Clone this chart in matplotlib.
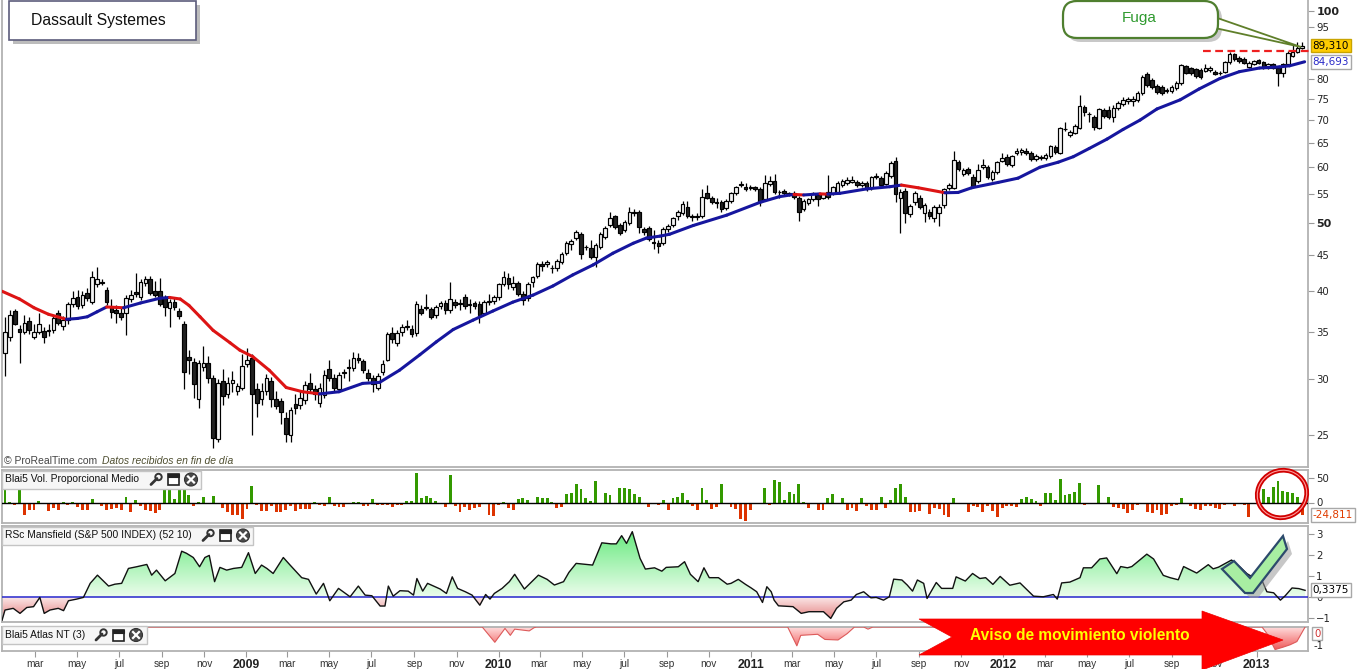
import datetime as dt
import numpy as np
import matplotlib
matplotlib.use("Agg")
import matplotlib.pyplot as plt
import matplotlib.dates as mdates
import matplotlib.transforms as mtransforms
from matplotlib.patches import Rectangle, FancyBboxPatch, Polygon, Ellipse, Circle
from matplotlib.path import Path
from matplotlib.colors import LinearSegmentedColormap

# ---------------- data (weekly) ----------------
title = "Dassault Systemes"
first_week = dt.datetime(2008, 1, 18)

opens = [
32.7, 34.4, 37.5, 35.4, 35.0, 36.3, 34.4, 35.0, 35.1, 35.1,
35.2, 37.2, 35.7, 36.4, 38.4, 39.2, 38.2, 39.8, 38.6, 41.0,
41.2, 40.2, 38.0, 37.6, 37.3, 37.3, 39.0, 39.9, 39.2, 41.1,
41.6, 40.1, 40.0, 39.1, 37.9, 38.6, 37.5, 36.0, 32.3, 31.7,
28.1, 31.2, 31.6, 30.1, 24.7, 29.8, 28.6, 29.6, 28.9, 29.2,
31.5, 32.2, 29.1, 28.1, 28.9, 29.8, 28.1, 27.9, 26.4, 25.0,
27.7, 27.6, 28.0, 29.6, 29.1, 27.8, 28.5, 31.0, 30.1, 29.1,
30.6, 31.1, 31.1, 32.2, 31.8, 30.6, 30.1, 29.2, 30.7, 32.0,
34.9, 33.8, 35.0, 35.6, 35.4, 34.9, 37.7, 37.9, 37.7, 37.0,
38.1, 38.5, 37.6, 38.6, 38.4, 39.2, 38.3, 38.5, 38.4, 37.3,
38.6, 38.7, 39.2, 41.0, 41.8, 40.5, 41.1, 39.7, 39.1, 41.2,
42.1, 43.8, 43.7, 43.2, 43.1, 44.0, 45.4, 46.7, 47.6, 48.2,
46.2, 46.1, 44.7, 46.3, 47.8, 49.6, 51.1, 49.7, 48.8, 50.0,
51.9, 51.8, 49.0, 49.2, 47.0, 46.9, 46.8, 49.0, 49.7, 51.1,
51.6, 52.7, 51.1, 51.2, 51.1, 55.1, 54.3, 53.5, 53.5, 52.5,
53.7, 55.1, 56.7, 56.2, 56.1, 56.2, 55.9, 54.0, 56.8, 57.4,
55.4, 55.5, 55.1, 55.1, 54.3, 52.4, 53.4, 54.1, 54.8, 54.3,
55.3, 55.1, 55.3, 56.6, 57.0, 57.2, 57.2, 56.6, 57.0, 56.0,
58.2, 57.9, 56.8, 58.3, 61.3, 54.3, 55.6, 51.5, 53.5, 54.3,
51.6, 51.8, 50.8, 51.6, 53.0, 56.1, 56.1, 61.0, 58.7, 59.7,
58.1, 57.4, 60.0, 60.0, 57.8, 59.1, 61.3, 62.0, 60.4, 62.9,
63.0, 63.3, 62.9, 61.6, 61.9, 61.8, 62.2, 64.1, 62.9, 67.9,
66.7, 67.1, 68.2, 73.1, 71.5, 70.7, 68.2, 72.4, 72.4, 70.7,
72.9, 73.8, 74.6, 74.6, 74.8, 76.5, 81.4, 79.8, 78.3, 78.0,
77.1, 77.0, 77.7, 79.0, 83.5, 82.9, 82.7, 82.5, 82.2, 82.4,
82.0, 81.7, 82.0, 84.6, 86.9, 85.8, 85.5, 83.3, 84.1, 85.2,
84.6, 83.0, 84.1, 83.0, 81.7, 84.1, 86.3, 87.5, 88.6]

highs = [
36.8, 37.6, 37.8, 35.8, 37.0, 36.8, 36.0, 37.2, 35.6, 35.9,
36.9, 37.6, 36.9, 38.6, 40.0, 40.2, 40.0, 40.4, 42.8, 43.3,
41.6, 40.6, 39.0, 38.2, 38.0, 39.5, 40.2, 42.5, 41.6, 42.0,
42.0, 41.4, 41.8, 39.5, 39.0, 39.2, 37.9, 36.3, 33.0, 32.2,
32.0, 33.4, 32.4, 30.4, 30.0, 31.0, 30.2, 30.8, 29.6, 32.6,
33.2, 32.6, 29.6, 29.6, 30.5, 30.2, 28.9, 28.2, 27.0, 27.4,
28.6, 29.0, 29.8, 30.6, 29.4, 29.6, 30.9, 32.0, 30.5, 30.7,
31.0, 32.1, 32.8, 32.7, 32.1, 31.0, 30.4, 30.6, 32.0, 35.0,
35.6, 35.2, 35.9, 36.4, 35.8, 38.7, 38.2, 39.6, 38.0, 38.3,
38.8, 38.9, 41.2, 39.0, 39.0, 39.6, 39.0, 38.8, 38.7, 38.9,
39.6, 39.5, 41.1, 42.8, 42.4, 42.0, 41.4, 40.0, 41.2, 42.1,
44.0, 44.1, 44.3, 43.6, 44.5, 45.5, 47.2, 47.5, 48.8, 48.6,
46.6, 47.3, 46.8, 48.5, 49.5, 51.9, 51.4, 50.0, 50.5, 52.7,
52.4, 52.1, 49.4, 49.5, 48.8, 47.3, 49.3, 49.8, 51.0, 52.1,
53.8, 53.7, 51.5, 51.6, 55.8, 56.6, 54.6, 54.3, 53.9, 54.0,
55.4, 56.5, 57.3, 57.0, 56.6, 56.5, 56.2, 58.5, 58.3, 58.6,
55.7, 55.9, 55.4, 55.5, 54.6, 54.0, 54.3, 55.4, 55.1, 55.2,
58.5, 56.5, 57.3, 57.7, 58.1, 58.4, 57.6, 57.4, 57.4, 58.4,
58.9, 58.3, 59.3, 61.2, 62.0, 55.8, 56.0, 53.2, 55.5, 54.8,
53.4, 52.3, 53.0, 53.2, 56.0, 57.0, 63.3, 61.5, 59.9, 60.1,
58.6, 60.6, 61.6, 60.4, 59.4, 61.3, 62.8, 62.6, 62.5, 63.8,
64.0, 63.9, 63.2, 62.6, 62.4, 62.8, 64.6, 64.5, 68.5, 69.6,
67.8, 69.2, 76.0, 73.5, 71.9, 71.2, 72.9, 72.8, 73.2, 73.6,
74.4, 75.6, 75.5, 75.7, 76.9, 81.0, 81.9, 80.3, 78.8, 78.4,
77.7, 78.5, 79.5, 84.1, 83.9, 83.4, 83.1, 83.0, 84.0, 83.5,
82.5, 82.2, 85.0, 87.4, 87.3, 86.2, 85.9, 84.8, 85.3, 85.6,
85.0, 84.5, 84.5, 83.4, 84.4, 87.6, 89.5, 90.4, 90.4]

lows = [
30.3, 34.0, 35.8, 31.6, 34.8, 34.8, 34.2, 34.8, 33.8, 34.6,
34.9, 35.8, 35.3, 36.0, 38.0, 37.8, 37.9, 38.8, 38.4, 40.6,
40.8, 38.2, 36.6, 36.1, 36.4, 34.7, 38.6, 39.3, 38.9, 40.7,
39.5, 39.2, 38.1, 36.9, 35.6, 37.6, 36.5, 29.1, 30.5, 28.2,
27.3, 30.8, 29.6, 24.0, 24.4, 27.6, 28.2, 28.8, 28.5, 29.0,
31.2, 25.0, 26.5, 27.6, 28.5, 27.4, 27.2, 25.9, 24.4, 24.4,
26.8, 27.2, 27.7, 28.8, 28.0, 27.4, 28.2, 29.8, 28.8, 28.8,
30.1, 29.8, 30.8, 31.6, 30.6, 29.8, 28.8, 29.0, 30.4, 31.8,
33.8, 33.5, 34.6, 35.3, 34.4, 34.6, 37.0, 37.6, 36.5, 36.7,
37.8, 37.1, 37.3, 37.9, 37.6, 37.8, 37.2, 37.8, 36.1, 37.0,
38.3, 38.4, 38.9, 40.7, 40.3, 40.2, 39.4, 38.2, 38.8, 40.6,
41.8, 42.7, 43.3, 42.4, 42.8, 43.7, 45.1, 45.8, 47.3, 44.4,
45.8, 44.4, 43.3, 46.0, 47.5, 49.3, 49.1, 48.1, 48.5, 49.7,
51.2, 48.4, 48.1, 47.1, 46.0, 45.4, 46.5, 48.6, 49.4, 50.5,
51.3, 50.8, 50.4, 50.5, 50.8, 54.0, 53.2, 52.6, 51.9, 52.2,
53.4, 54.8, 56.3, 55.6, 55.7, 55.5, 52.9, 53.7, 56.5, 55.0,
54.3, 54.8, 54.6, 54.0, 50.3, 52.0, 53.0, 53.8, 52.9, 54.0,
54.0, 54.8, 55.0, 56.3, 56.7, 56.9, 56.2, 56.2, 55.6, 55.7,
57.8, 56.2, 56.6, 58.0, 53.5, 48.4, 50.0, 51.0, 53.0, 52.3,
50.2, 50.6, 50.2, 49.5, 52.6, 55.7, 55.8, 59.3, 58.3, 58.5,
56.0, 57.0, 59.6, 57.7, 57.4, 58.7, 61.0, 60.2, 60.0, 62.5,
62.4, 62.4, 61.2, 61.2, 61.5, 61.4, 61.9, 62.7, 62.6, 67.5,
66.3, 66.8, 67.9, 70.9, 69.5, 67.8, 67.9, 70.5, 70.2, 69.5,
72.3, 73.4, 73.8, 73.4, 74.3, 76.1, 78.1, 77.5, 76.2, 76.0,
76.4, 76.5, 77.2, 78.6, 81.3, 81.2, 80.4, 80.1, 81.8, 82.0,
81.0, 81.0, 81.6, 84.2, 85.0, 84.5, 84.0, 82.9, 83.7, 84.0,
82.6, 82.6, 82.6, 78.3, 80.6, 83.7, 86.0, 87.1, 88.2]

closes = [
35.0, 37.0, 36.0, 35.0, 36.1, 35.3, 35.0, 36.0, 34.5, 35.3,
36.6, 36.1, 36.4, 38.4, 39.1, 38.1, 39.5, 39.1, 41.9, 41.6,
41.1, 38.6, 37.4, 37.2, 36.8, 39.1, 39.5, 39.7, 41.2, 41.6,
39.8, 39.5, 38.4, 38.0, 38.6, 38.0, 36.9, 30.7, 31.9, 29.5,
31.6, 31.6, 30.1, 24.8, 29.6, 28.4, 29.6, 29.9, 29.3, 31.3,
32.0, 28.6, 27.8, 28.9, 30.1, 28.1, 27.5, 27.0, 25.1, 27.1,
27.3, 28.2, 29.4, 29.1, 28.6, 29.2, 30.4, 30.1, 29.2, 30.4,
30.7, 31.2, 32.2, 32.0, 30.9, 30.1, 29.5, 30.3, 31.5, 34.8,
34.2, 34.9, 35.6, 35.7, 34.8, 38.4, 37.3, 38.0, 36.8, 38.0,
38.5, 37.6, 39.0, 38.2, 38.5, 38.1, 38.4, 38.1, 37.0, 38.6,
38.7, 39.2, 40.9, 41.9, 41.0, 41.1, 39.7, 38.9, 40.9, 41.9,
43.8, 43.4, 44.0, 43.1, 44.2, 45.2, 46.8, 47.1, 48.5, 45.2,
46.3, 44.7, 46.5, 48.2, 49.2, 50.8, 49.4, 48.4, 50.2, 51.8,
51.7, 49.4, 48.5, 47.5, 46.9, 46.4, 49.0, 49.5, 50.8, 51.8,
53.2, 51.1, 51.0, 51.0, 54.4, 54.3, 53.5, 53.4, 52.4, 53.7,
55.1, 56.2, 56.8, 55.9, 56.2, 55.9, 53.5, 57.0, 57.4, 55.3,
55.3, 55.1, 55.0, 54.4, 51.8, 53.7, 54.0, 55.1, 54.1, 54.9,
54.5, 56.2, 57.0, 57.4, 57.6, 57.6, 56.6, 57.0, 56.0, 58.1,
58.3, 56.6, 58.8, 60.8, 55.0, 55.3, 51.6, 52.8, 55.1, 52.7,
53.0, 51.1, 52.7, 52.7, 55.8, 56.6, 61.4, 59.7, 59.5, 58.9,
56.5, 59.5, 60.4, 58.1, 59.1, 61.0, 61.8, 60.6, 62.2, 63.3,
63.4, 62.9, 61.6, 62.2, 62.0, 62.4, 64.3, 63.1, 68.2, 68.0,
67.4, 68.7, 73.3, 71.9, 71.4, 68.5, 72.6, 71.0, 70.8, 72.9,
74.0, 74.8, 74.9, 75.0, 76.5, 80.6, 78.5, 78.0, 76.7, 76.5,
77.2, 78.0, 79.0, 83.8, 81.7, 81.7, 80.9, 80.6, 83.0, 83.1,
81.4, 81.6, 84.6, 86.9, 85.5, 84.9, 84.4, 84.4, 84.9, 84.4,
83.0, 84.1, 83.0, 81.7, 84.1, 87.2, 87.5, 88.6, 89.31]

# moving average (week number -> value)
ma_week = [-0.6, 3, 6, 9, 12.7, 15, 17, 19, 21, 24.5,
           28, 32, 34, 36.2, 38, 40.3, 43, 46.5, 48.5, 51.2,
           54.6, 58.1, 61.5, 65, 69, 73.9, 77.4, 81.5, 85.7, 89.1,
           92.6, 96.7, 100.8, 104.9, 109.1, 113.2, 117.3, 121.5, 125.6, 129.8,
           132.5, 135.3, 137.3, 142.2, 149.1, 156, 160, 163, 165, 168.4,
           170, 172.5, 178, 182.8, 185.2, 188.7, 194.2, 196.9, 199.7, 205.2,
           209.3, 213.8, 217.6, 220.7, 224.0, 227.7, 231.0, 234.5, 238.0, 242.8,
           246.7, 251, 255, 259.2, 263.3, 265.4, 268.5]
ma_val = [40.0, 39.0, 37.9, 37.1, 36.5, 36.6, 36.8, 37.4, 38.0, 37.9,
          38.5, 39.1, 39.2, 39.0, 38.2, 36.8, 35.2, 33.8, 33.0, 32.3,
          30.9, 29.2, 28.8, 28.6, 28.8, 29.6, 29.7, 30.9, 32.5, 33.9,
          35.3, 36.4, 37.5, 38.6, 39.5, 40.7, 42.2, 43.6, 45.3, 46.8,
          47.6, 47.9, 48.2, 49.6, 51.3, 53.5, 54.5, 54.9, 54.8, 55.0,
          54.95, 55.1, 55.9, 56.3, 56.6, 56.1, 55.2, 55.25, 56.1, 57.1,
          57.9, 60.0, 61.0, 62.1, 63.8, 65.8, 67.9, 70.0, 72.6, 74.8,
          77.5, 80.2, 82.0, 83.0, 83.3, 83.6, 84.7]

resistance = 87.7
resistance_weeks = [247.5, 270.6]

vol = [
27, 2, -4, 27, -24, -14, -14, 4, -2, -17,
-10, -15, 2, -5, 2, -9, -14, -14, 8, 0,
-7, -14, -12, -10, -14, 11, -19, 6, -7, -15,
-17, -21, -14, 26, 29, 7, 29, 29, 15, -7,
2, 11, 0, 13, 0, -10, -19, -24, -24, -33,
-12, 33, -4, -17, -17, -7, -18, -18, -15, -7,
-17, -12, -12, -12, 2, -4, -7, 11, -7, -9,
-9, 0, 2, 2, -7, -7, 8, -4, -4, -4,
-9, -4, -5, 3, 3, 59, 10, 13, 9, 3,
-3, -9, 55, -7, -19, -9, -15, -11, -9, 0,
-25, -27, -5, 2, -10, -15, 7, 9, 5, -2,
12, 9, 9, 2, -10, -9, 17, 19, 37, 27,
9, 3, 43, -2, 19, 15, -2, 30, 29, 27,
17, 12, 0, -9, 0, -5, 5, -15, 10, 12,
19, 5, -7, -15, 30, 5, -12, -9, 37, -2,
-9, -13, -32, -37, -15, 0, 0, 29, -5, 45,
41, 5, 21, 17, 37, 2, -10, -2, -15, -15,
9, 17, 0, 9, -15, -10, -17, 9, -7, -15,
-15, 12, -10, 5, 30, 37, 12, -19, -19, -17,
0, -22, -10, -12, -25, -29, 10, 0, 0, -19,
-7, -9, -19, -7, -17, -29, -10, -7, -7, -9,
8, 12, 8, 3, -7, 20, 19, 5, 47, 15,
17, 22, 40, -5, 0, -2, 35, -3, 12, -9,
-10, -13, -20, -15, -5, 0, -18, -20, -15, -25,
-23, -7, -5, 10, -3, -7, -13, -15, -7, -7,
-10, -12, -5, -3, -7, -3, -5, -28, -3, 1,
28, 11, 32, 43, 23, 21, 19, 12, -24.811]

rsc_week = [
-0.6, 0.0, 1.7, 3.1, 4.5, 5.9, 7.2, 8.1, 9.3, 11.0,
12.1, 13.1, 14.8, 16.2, 17.6, 19.1, 21.4, 22.7, 24.1, 25.5,
27.2, 29.3, 30.3, 31.3, 33.1, 35.1, 36.5, 37.5, 38.9, 40.2,
41.3, 42.2, 43.3, 44.4, 45.8, 47.2, 48.9, 50.3, 51.7, 53.0,
54.1, 55.4, 57.5, 58.9, 61.3, 62.7, 64.3, 65.8, 67.1, 68.9,
71.3, 73.0, 74.4, 75.8, 77.5, 78.5, 79.2, 80.2, 81.6, 83.3,
84.4, 85.1, 86.3, 87.3,
89.9, 91.2, 92.4, 93.5, 95.1, 96.5, 98.1, 99.3, 100.2, 101.1,
102.7, 104.2, 105.3, 107.3, 110.2, 112.0, 113.5, 115.4, 116.5, 118.0,
121.4, 123.3, 125.2, 126.3, 127.4, 128.4, 129.6, 131.2, 132.3, 134.2,
135.7, 136.6, 139.1, 140.4, 141.6, 143.2, 144.4, 145.5, 147.4, 149.2,
150.0, 151.5, 153.0, 154.1, 155.3, 156.5, 157.4, 158.3, 158.9, 159.8,
162.8, 164.5, 166.1, 167.6, 169.1, 170.6, 171.8, 173.3, 174.8, 175.9,
177.4, 178.9, 180.0, 181.5, 182.7, 183.6, 185.3, 186.4, 187.5, 188.5,
189.8, 190.5, 192.4, 193.5, 195.8, 196.5, 198.4, 199.9, 201.4, 202.6,
204.1,
205.6, 207.6, 209.7, 212.5, 214.5, 216.6, 217.4, 218.3, 220.0, 222.1,
222.8, 224.5, 226.2, 227.6, 229.7, 230.5, 231.9, 232.8, 235.9, 237.3,
239.3, 240.7, 242.4, 243.5, 246.2, 248.6, 249.6, 250.7, 253.4, 255.2,
256.6, 258.0, 259.7, 260.7, 262.1, 263.5, 264.5, 265.9, 267.3, 268.6]
rsc_val = [
-1.08, -0.6, -0.52, -0.76, -0.48, -0.44, 0.0, -0.76, -0.6, -0.52,
-0.63, -0.16, -0.08, 0.0, 0.67, 1.06, 0.54, 0.63, 0.67, 1.38,
1.46, 1.57, 1.06, 1.3, 0.79, 1.14, 2.2, 2.1, 1.9, 1.46,
1.9, 2.0, 0.75, 1.43, 1.3, 1.38, 1.43, 2.13, 1.14, 1.54,
1.38, 1.14, 1.9, 1.54, 0.94, 0.86, 0.16, 0.67, -0.16, 0.43,
0.03, 0.54, 0.11, 0.08, -0.41, -0.41, 0.54, 0.06, 0.32, 0.3,
0.11, 0.9, 0.3, 0.67,
0.4, 0.19, 0.98, 0.43, 0.27, 0.11, -0.37, 0.14, -0.08, 0.19,
0.43, 0.75, 1.1, 0.4, 1.06, 0.86, 0.59, 0.75, 1.19, 1.62,
1.54, 2.6, 2.55, 2.55, 2.94, 2.57, 3.13, 1.86, 1.35, 1.41,
1.25, 1.43, 1.46, 1.7, 1.1, 0.75, 1.41, 0.94, 0.94, 0.63,
0.67, 0.86, 0.62, 0.46, 0.27, -0.24, 0.51, 0.27, -0.13, -0.4,
-0.44, -0.76, -0.68, -0.68, -0.68, -1.0, -0.52, -0.21, -0.13, 0.14,
0.27, -0.02, 0.0, -0.13, 0.03, 0.87, 0.83, 0.59, 0.3, 0.83,
0.67, -0.05, 0.71, 0.43, 0.43, 0.98, 0.78, 1.14, 0.9, 0.94,
0.62,
1.0, 0.58, 0.69, 0.06, 0.03, 0.14, -0.08, 0.69, 0.73, 0.94,
1.41, 1.41, 1.83, 1.88, 1.13, 1.47, 1.41, 1.47, 2.06, 1.83,
1.05, 0.94, 0.84, 1.47, 1.16, 1.56, 1.36, 1.44, 1.78, 1.44,
1.13, 0.94, 0.81, 0.27, 0.22, -0.13, 0.08, 0.45, 0.42, 0.3375]

atlas_week = [-0.6, 98.6, 101.2, 103.3, 104.4, 105.3, 108.3, 109.3, 109.8,
              161.7, 163.6, 164.4, 167.9, 169.4, 172.1, 174.0, 175.5,
              177.4, 178.3, 179.3, 259.7, 260.7, 262.4, 264.1, 265.5, 266.9, 268.6]
atlas_val = [0, 0, -0.86, -0.08, -0.47, -0.12, -0.22, -0.04, 0,
             0, -1.06, -0.47, -0.41, -0.7, -0.73, -0.37, 0,
             0, -0.12, 0, 0, -0.36, -1.27, -1.13, -1.0, -0.82, 0]

price_ticks = [25, 30, 35, 40, 45, 50, 55, 60, 65, 70, 75, 80, 95, 100]
bold_ticks = [50, 100]
close_label = "89,310"
ma_label = "84,693"
vol_label = "-24,811"
rsc_label = "0,3375"
month_names = {3: "mar", 5: "may", 7: "jul", 9: "sep", 11: "nov"}
vol_title = "Blai5 Vol. Proporcional Medio"
rsc_title = "RSc Mansfield (S&P 500 INDEX) (52 10)"
atlas_title = "Blai5 Atlas NT (3)"
callout_text = "Fuga"
arrow_text = "Aviso de movimiento violento"

# ---------------- figure ----------------
W, H = 1360, 669
fig = plt.figure(figsize=(W / 100, H / 100), dpi=100)
fig.patch.set_facecolor("white")


def px_axes(x0, y0, x1, y1):
    return fig.add_axes([x0 / W, 1 - y1 / H, (x1 - x0) / W, (y1 - y0) / H])


t0 = mdates.date2num(first_week)


def wk(w):
    return t0 + 7.0 * np.asarray(w, dtype=float)


n = len(closes)
xs = wk(np.arange(n))
XL = (float(wk(-0.62)), float(wk(269.2)))
EDGE = "#b2b2b2"


def style(a):
    a.set_facecolor("white")
    for s in a.spines.values():
        s.set_color(EDGE)
        s.set_linewidth(1.3)
    a.yaxis.tick_right()
    a.tick_params(axis="y", which="both", length=4, width=0.8, color="#999999",
                  labelsize=7.3, labelcolor="#222222", pad=2)
    a.tick_params(axis="x", which="both", bottom=False, labelbottom=False)


def grad_fill(a, x, y, where, c_near, c_far, far):
    coll = a.fill_between(x, y, 0, where=where, interpolate=True,
                          facecolor="none", edgecolor="none", linewidth=0)
    paths = [p for p in coll.get_paths() if len(p.vertices)]
    if not paths:
        return
    clip = Path.make_compound_path(*paths)
    cmap = LinearSegmentedColormap.from_list("gf", [c_near, c_far])
    g = np.linspace(0, 1, 256).reshape(-1, 1)
    if far > 0:
        lo, hi_, img = 0, far, g
    else:
        lo, hi_, img = far, 0, g[::-1]
    im = a.imshow(img, cmap=cmap, vmin=0, vmax=1, aspect="auto", origin="lower",
                  extent=[XL[0], XL[1], lo, hi_], zorder=1, interpolation="bilinear")
    im.set_clip_path(clip, a.transData)


# ---- main price panel ----
ax = px_axes(2, 0, 1308, 467)
style(ax)
ax.spines["top"].set_visible(False)
ax.set_yscale("log")

o = np.array(opens)
c = np.array(closes)
hh = np.maximum(np.array(highs), np.maximum(o, c))
ll = np.minimum(np.array(lows), np.minimum(o, c))
ax.vlines(xs, ll, hh, color="black", lw=0.9, zorder=2)
up = c >= o
bot = np.minimum(o, c)
hgt = np.maximum(np.abs(c - o), 0.02)
ax.bar(xs[up], hgt[up], bottom=bot[up], width=5.3, color="#f4f4f4",
       edgecolor="black", linewidth=0.85, zorder=3)
ax.bar(xs[~up], hgt[~up], bottom=bot[~up], width=5.3, color="#222222",
       edgecolor="black", linewidth=0.85, zorder=3)

mx = wk(ma_week)
mv = np.array(ma_val)
for k in range(len(mv) - 1):
    col = "#16169e" if mv[k + 1] >= mv[k] else "#dd1414"
    ax.plot(mx[k:k + 2], mv[k:k + 2], color=col, lw=2.2,
            solid_capstyle="round", zorder=4)

ax.plot(wk(resistance_weeks), [resistance, resistance], color="#ee2020", lw=1.6,
        dashes=(3.5, 2), zorder=5, clip_on=False)

ax.set_xlim(*XL)
ax.set_ylim(22.52, 103.66)
ax.yaxis.set_minor_locator(matplotlib.ticker.NullLocator())
ax.set_yticks(price_ticks)
ax.set_yticklabels([str(t) for t in price_ticks])
for t, v in zip(ax.get_yticklabels(), price_ticks):
    if v in bold_ticks:
        t.set_fontweight("bold")
        t.set_fontsize(8)

btr = mtransforms.blended_transform_factory(ax.transAxes, ax.transData)
ax.text(1.0035, closes[-1], close_label, transform=btr, fontsize=7.5, va="center",
        ha="left", color="black", zorder=20, clip_on=False,
        bbox=dict(boxstyle="square,pad=0.18", fc="#ffcc00", ec="#c9a400", lw=1))
ax.text(1.0035, ma_val[-1], ma_label, transform=btr, fontsize=7.5, va="center",
        ha="left", color="#2b2bc8", zorder=20, clip_on=False,
        bbox=dict(boxstyle="square,pad=0.18", fc="white", ec="#a8a8a8", lw=1))

# ---- volume panel ----
axv = px_axes(2, 470, 1308, 523)
style(axv)
vv = np.array(vol)
axv.bar(xs, vv, width=4.2, color=np.where(vv >= 0, "#339900", "#dd3300"), zorder=2)
axv.axhline(0, color="black", lw=1, zorder=3)
axv.set_xlim(*XL)
axv.set_ylim(-41, 65)
axv.set_yticks([0, 50])
bv = mtransforms.blended_transform_factory(axv.transAxes, axv.transData)
axv.text(1.0035, vol[-1], vol_label, transform=bv, fontsize=7.5, va="center",
         ha="left", color="#e03c00", clip_on=False,
         bbox=dict(boxstyle="square,pad=0.18", fc="white", ec="#a8a8a8", lw=1))

# ---- RSc Mansfield panel ----
axr = px_axes(2, 526, 1308, 622)
style(axr)
rx = wk(rsc_week)
rv = np.array(rsc_val)
grad_fill(axr, rx, rv, rv >= 0, "#ecfdec", "#5fe878", 3.3)
grad_fill(axr, rx, rv, rv <= 0, "#fbe8e8", "#e27272", -1.2)
axr.plot(rx, rv, color="#111111", lw=1.0, zorder=4)
axr.axhline(0, color="#2626cc", lw=1.1, zorder=3)
axr.set_xlim(*XL)
axr.set_ylim(-1.17, 3.40)
axr.set_yticks([-1, 0, 1, 2, 3])
br = mtransforms.blended_transform_factory(axr.transAxes, axr.transData)
axr.text(1.0035, rsc_val[-1], rsc_label, transform=br, fontsize=7.5, va="center",
         ha="left", color="black", clip_on=False,
         bbox=dict(boxstyle="square,pad=0.18", fc="white", ec="#a8a8a8", lw=1))

# ---- Atlas panel ----
axa = px_axes(2, 627, 1308, 651)
style(axa)
axw = wk(atlas_week)
av = np.array(atlas_val, dtype=float)
grad_fill(axa, axw, av, av <= 0, "#ffdcdc", "#ee5252", -1.35)
axa.plot(axw, av, color="#dd5a5a", lw=0.8, zorder=3)
axa.set_xlim(*XL)
axa.set_ylim(-1.35, 0.0)
axa.set_yticks([])
axa.text(1.0045, 0.71, "0", transform=axa.transAxes, fontsize=7.3, va="center",
         ha="left", color="#d03030", clip_on=False,
         bbox=dict(boxstyle="square,pad=0.15", fc="white", ec="#a8a8a8", lw=1))
axa.text(1.0045, 0.21, "-1", transform=axa.transAxes, fontsize=7.3, va="center",
         ha="left", color="#222222", clip_on=False)

ticks, labels = [], []
for yr in range(2008, 2014):
    for m in (1, 3, 5, 7, 9, 11):
        d = mdates.date2num(dt.datetime(yr, m, 1))
        if XL[0] <= d <= XL[1] - 21:
            ticks.append(d)
            labels.append(str(yr) if m == 1 else month_names[m])
axa.set_xticks(ticks)
axa.set_xticklabels(labels)
axa.tick_params(axis="x", bottom=True, labelbottom=True, length=4, width=0.8,
                color="#999999", labelsize=7.3, labelcolor="#333333", pad=1.5)
for t in axa.get_xticklabels():
    t.set_family("Liberation Sans")
    if t.get_text().isdigit():
        t.set_fontweight("bold")
        t.set_fontsize(8.8)
        t.set_color("#222222")

# ---------------- overlay annotations (pixel coordinates) ----------------
ov = fig.add_axes([0, 0, 1, 1], zorder=10)
ov.set_xlim(0, W)
ov.set_ylim(H, 0)
ov.axis("off")
ov.patch.set_alpha(0)

# title box
ov.add_patch(Rectangle((13, 5), 187, 39, fc="#bcbcbc", ec="none"))
ov.add_patch(Rectangle((9, 1), 187, 39, fc="white", ec="#5c5c7c", lw=1.2))
ov.text(31, 21, title, fontsize=11.3, family="Liberation Sans", va="center",
        ha="left", color="#111111")

# copyright line
ov.text(4, 461, "\u00a9 ProRealTime.com", fontsize=7.5, family="Liberation Sans",
        va="center", ha="left", color="#444444")
ov.text(102, 461, "Datos recibidos en fin de d\u00eda", fontsize=7.5,
        family="Liberation Sans", style="italic", va="center", ha="left",
        color="#4e4e30")


def icons(w, yc):
    ov.plot([w - 5, w + 1], [yc + 5, yc - 1], color="#333333", lw=2.0,
            solid_capstyle="round")
    ov.add_patch(Circle((w + 2.5, yc - 2.5), 3.2, fill=False, ec="#333333", lw=1.4))
    ov.add_patch(Rectangle((w + 12, yc - 5.5), 11, 11, fc="white", ec="#222222", lw=1.2))
    ov.add_patch(Rectangle((w + 12, yc - 5.5), 11, 3, fc="#222222", ec="#222222", lw=0.8))
    ov.add_patch(Circle((w + 35, yc), 6.5, fc="#4a4a4a", ec="#333333", lw=0.8))
    ov.plot([w + 32, w + 38], [yc - 3, yc + 3], color="white", lw=1.6)
    ov.plot([w + 32, w + 38], [yc + 3, yc - 3], color="white", lw=1.6)


def header(x1, yc, text, wpos):
    ov.add_patch(Rectangle((2, yc - 9), x1 - 2, 18, fc="#f6f6f6", ec="#c4c4c4", lw=1))
    ov.text(5, yc, text, fontsize=7.4, family="Liberation Sans", va="center",
            ha="left", color="#111111")
    icons(wpos, yc)


header(201, 479.5, vol_title, 156)
header(253, 535.5, rsc_title, 208)
header(147, 635, atlas_title, 101)

# "Fuga" callout
ov.add_patch(FancyBboxPatch((1067, 5), 155, 37, boxstyle="round,pad=0,rounding_size=14",
                            fc="#c8c8c8", ec="none"))
ov.add_patch(Polygon([(1200, 12), (1301, 47), (1206, 26)], closed=True,
                     fc="white", ec="#5f7f2a", lw=1.3))
ov.add_patch(FancyBboxPatch((1063, 1), 155, 37, boxstyle="round,pad=0,rounding_size=14",
                            fc="white", ec="#4f7f2f", lw=1.6))
ov.text(1139, 18, callout_text, fontsize=11, family="Liberation Sans", va="center",
        ha="center", color="#2f9a2f")

# red ellipse around last volume bars
ov.add_patch(Ellipse((1282, 494), 50, 47, angle=-25, fill=False, ec="#d00000", lw=3.4))
ov.add_patch(Ellipse((1282, 494), 50, 47, angle=-25, fill=False, ec="#ff9a9a", lw=0.8))

# check mark
check = [(1222, 569), (1234, 561), (1250, 578), (1283, 536), (1287, 549),
         (1253, 593), (1245, 593)]
ov.add_patch(Polygon([(x + 5, y + 5) for x, y in check], closed=True, fc="#9a9a9a",
                     ec="none", alpha=0.55))
ov.add_patch(Polygon(check, closed=True, fc="#a8eea2", ec="#2c4a6c", lw=1.6))

# warning arrow
arrow = [(919, 619), (1202, 619), (1202, 611), (1283, 640), (1202, 670),
         (1202, 655), (919, 655), (952, 637)]
ov.add_patch(Polygon(arrow, closed=True, fc="#ff0000", ec="#ee0000", lw=0.5))
ov.text(1080, 636, arrow_text, fontsize=11.2, family="Liberation Sans",
        fontweight="bold", va="center", ha="center", color="#ffff00")

fig.savefig("out.png", dpi=100)
